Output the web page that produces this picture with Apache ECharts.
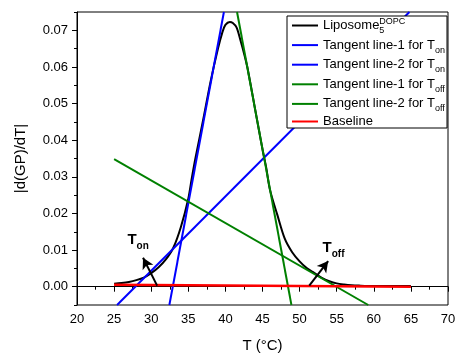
<!DOCTYPE html>
<html>
<head>
<meta charset="utf-8">
<script src="https://cdn.jsdelivr.net/npm/echarts@6/dist/echarts.min.js"></script>
<style>
  html, body { margin: 0; padding: 0; background: #fff; }
  #chart { width: 459px; height: 358px; }
</style>
</head>
<body>
<div id="chart"></div>
<script>
// temperature (°C) and |d(GP)/dT| of the liposome curve
const tempC = [25, 26, 27, 28, 29, 30, 31, 32, 33, 34, 35, 35.5, 36, 37, 38, 39, 39.6, 40, 40.6, 41, 41.5, 42, 42.6, 43, 44, 45, 45.5, 46, 47, 48, 49, 50, 51, 52, 53, 54, 55, 56, 57, 58, 60, 62, 65];
const liposome = [0.0008, 0.0010, 0.0013, 0.0018, 0.0025, 0.0037, 0.0053, 0.0075, 0.0107, 0.0163, 0.0240, 0.0300, 0.0355, 0.0455, 0.0560, 0.0650, 0.0695, 0.0715, 0.0723, 0.0720, 0.0708, 0.0675, 0.0630, 0.0595, 0.0485, 0.0375, 0.0325, 0.0265, 0.0196, 0.0131, 0.0094, 0.0069, 0.0050, 0.0037, 0.0024, 0.0015, 0.0009, 0.0006, 0.0004, 0.0003, 0.0002, 0.0002, 0.0002];

// tangent lines and baseline (two end points each)
const onLine1X = [32.45, 39.8];
const onLine1Y = [-0.005, 0.075];
const onLine2X = [25.4, 64.8];
const onLine2Y = [-0.005, 0.075];
const offLine1X = [41.57, 48.9];
const offLine1Y = [0.075, -0.005];
const offLine2X = [25, 59.25];
const offLine2Y = [0.0348, -0.005];
const baseX = [25, 65];
const baseY = [0.0005, 0.0000];

// arrows: [from, to]
const onArrow = [[30.8, 0.0003], [28.9, 0.0079]];
const offArrow = [[51.3, 0.0003], [53.85, 0.0070]];
const onLabelAt = [26.8, 0.0124];
const offLabelAt = [53.1, 0.0102];

// axis ticks
const xTicks = [20, 25, 30, 35, 40, 45, 50, 55, 60, 65, 70];
const yTicks = [0, 0.01, 0.02, 0.03, 0.04, 0.05, 0.06, 0.07];
const yMinorTicks = [-0.005, 0.005, 0.015, 0.025, 0.035, 0.045, 0.055, 0.065, 0.075];

const zip = (xs, ys) => xs.map((x, i) => [x, ys[i]]);

const legendText = {
  'Liposome': '{n|Liposome}{s5|5}{sp|DOPC}',
  'Tangent line-1 for Ton': '{n|Tangent line-1 for T}{sb|on}',
  'Tangent line-2 for Ton': '{n|Tangent line-2 for T}{sb|on}',
  'Tangent line-1 for Toff': '{n|Tangent line-1 for T}{sb|off}',
  'Tangent line-2 for Toff': '{n|Tangent line-2 for T}{sb|off}',
  'Baseline': '{n|Baseline}'
};

const font = 'Liberation Sans, Arial, sans-serif';
const chart = echarts.init(document.getElementById('chart'));

const lineSeries = (name, data, color, width) => ({
  name: name,
  type: 'line',
  data: data,
  symbol: 'none',
  lineStyle: { color: color, width: width },
  itemStyle: { color: color },
  animation: false
});

const baseline = lineSeries('Baseline', zip(baseX, baseY), '#ff0000', 2.5);
baseline.markLine = {
  silent: true,
  animation: false,
  label: { show: false },
  lineStyle: { color: '#000', width: 2, type: 'solid' },
  symbolSize: [9, 11],
  data: [
    [{ coord: onArrow[0], symbol: 'none' }, { coord: onArrow[1], symbol: 'arrow' }],
    [{ coord: offArrow[0], symbol: 'none' }, { coord: offArrow[1], symbol: 'arrow' }]
  ]
};
const tLabel = (sub) => ({
  show: true,
  position: 'right',
  distance: 0,
  formatter: '{t|T}{s|' + sub + '}',
  rich: {
    t: { fontSize: 15, fontWeight: 'bold', color: '#000', fontFamily: font, lineHeight: 17, verticalAlign: 'top' },
    s: { fontSize: 10, fontWeight: 'bold', color: '#000', fontFamily: font, lineHeight: 10, verticalAlign: 'top', padding: [8, 0, 0, 0] }
  }
});
baseline.markPoint = {
  silent: true,
  animation: false,
  symbol: 'circle',
  symbolSize: 0,
  data: [
    { coord: onLabelAt, label: tLabel('on') },
    { coord: offLabelAt, label: tLabel('off') }
  ]
};

chart.setOption({
  animation: false,
  textStyle: { fontFamily: font },
  grid: {
    left: 77, right: 11, top: 12, bottom: 47,
    show: true, borderColor: '#000', borderWidth: 1, backgroundColor: 'transparent'
  },
  legend: {
    left: 287, top: 16,
    orient: 'vertical',
    padding: [1, 2, 0, 5],
    itemGap: 1.6,
    itemWidth: 26,
    itemHeight: 2,
    icon: 'rect',
    backgroundColor: '#fff',
    borderColor: '#000',
    borderWidth: 1,
    borderRadius: 0,
    selectedMode: false,
    formatter: name => legendText[name],
    textStyle: {
      color: '#000',
      fontSize: 13,
      fontFamily: font,
      rich: {
        n: { fontSize: 13, lineHeight: 17, fontFamily: font, color: '#000' },
        sb: { fontSize: 9, lineHeight: 8, verticalAlign: 'top', padding: [9, 0, 0, 0], fontFamily: font, color: '#000' },
        s5: { fontSize: 9, lineHeight: 8, width: 0, verticalAlign: 'top', padding: [9, 0, 0, 0], fontFamily: font, color: '#000' },
        sp: { fontSize: 9, lineHeight: 8, verticalAlign: 'top', fontFamily: font, color: '#000' }
      }
    }
  },
  xAxis: {
    type: 'value',
    min: 20, max: 70, interval: 5,
    name: 'T (°C)',
    nameLocation: 'middle',
    nameGap: 33,
    nameTextStyle: { fontSize: 15, color: '#000', fontFamily: font },
    axisLine: { lineStyle: { color: '#000', width: 1 } },
    axisTick: { length: 5, lineStyle: { color: '#000' } },
    minorTick: { show: true, splitNumber: 2, length: 3, lineStyle: { color: '#000' } },
    axisLabel: { customValues: xTicks, fontSize: 13, color: '#000', margin: 8, fontFamily: font },
    splitLine: { show: false }
  },
  yAxis: [
    {
      type: 'value',
      min: -0.005, max: 0.075,
      name: '|d(GP)/dT|',
      nameLocation: 'middle',
      nameGap: 49,
      nameTextStyle: { fontSize: 15, color: '#000', fontFamily: font },
      axisLine: { show: true, lineStyle: { color: '#000', width: 1 } },
      axisTick: { show: true, customValues: yTicks, length: 5, lineStyle: { color: '#000' } },
      axisLabel: { customValues: yTicks, fontSize: 13, color: '#000', margin: 9, fontFamily: font, formatter: v => v.toFixed(2) },
      splitLine: { show: false }
    },
    {
      type: 'value',
      min: -0.005, max: 0.075,
      position: 'left',
      axisLine: { show: false },
      axisTick: { show: true, customValues: yMinorTicks, length: 3, lineStyle: { color: '#000' } },
      axisLabel: { show: false },
      splitLine: { show: false }
    }
  ],
  series: [
    lineSeries('Liposome', zip(tempC, liposome), '#000000', 2),
    lineSeries('Tangent line-1 for Ton', zip(onLine1X, onLine1Y), '#0000ff', 2),
    lineSeries('Tangent line-2 for Ton', zip(onLine2X, onLine2Y), '#0000ff', 2),
    lineSeries('Tangent line-1 for Toff', zip(offLine1X, offLine1Y), '#008000', 2),
    lineSeries('Tangent line-2 for Toff', zip(offLine2X, offLine2Y), '#008000', 2),
    baseline
  ]
});
chart.setOption({ series: [{ smooth: 0.3 }] });
</script>
</body>
</html>
